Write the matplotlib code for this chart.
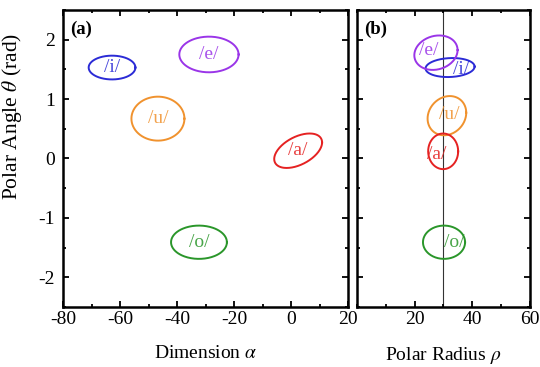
import numpy as np
import matplotlib
matplotlib.use("Agg")
import matplotlib.pyplot as plt
from matplotlib.ticker import MultipleLocator

plt.rcParams['font.family'] = ['Liberation Serif', 'DejaVu Serif']
plt.rcParams['mathtext.fontset'] = 'stix'
plt.rcParams['axes.unicode_minus'] = False

# vowel clusters
vowels = ['/i/', '/e/', '/u/', '/a/', '/o/']
colors = ['#2b2bd6', '#9a35e8', '#f0922e', '#e52222', '#2a962a']

# panel (a): dimension alpha vs polar angle
a_cx = [-62.8, -28.8, -46.7, 2.5, -32.3]
a_cy = [1.53, 1.75, 0.67, 0.13, -1.41]
a_rx = [8.2, 10.4, 9.3, 8.4, 9.8]
a_ry = [0.20, 0.30, 0.37, 0.29, 0.28]
a_corr = [0.0, 0.0, 0.0, 0.48, 0.0]

# panel (b): polar radius vs polar angle
b_cx = [32.3, 27.4, 31.2, 29.9, 30.2]
b_cy = [1.53, 1.78, 0.72, 0.12, -1.41]
b_rx = [8.5, 7.5, 6.7, 5.2, 7.3]
b_ry = [0.16, 0.29, 0.33, 0.30, 0.28]
b_corr = [0.1, 0.15, 0.15, 0.0, 0.0]
b_lx = [36.1, 25.0, 32.0, 27.8, 33.7]
b_ly = [1.50, 1.82, 0.74, 0.07, -1.41]

rho_line = 30


def draw_ellipse(ax, cx, cy, rx, ry, corr, color):
    t = np.linspace(0, 2 * np.pi, 200)
    d = np.arccos(corr)
    ax.plot(cx + rx * np.cos(t), cy + ry * np.cos(t - d), color=color, lw=1.4)


def style(ax):
    ax.tick_params(which='both', direction='in', top=True, right=True,
                   labelsize=14, width=1.3)
    ax.tick_params(axis='x', pad=3)
    ax.tick_params(axis='y', pad=6)
    ax.tick_params(which='major', length=4)
    ax.tick_params(which='minor', length=2.5)
    ax.yaxis.set_major_locator(MultipleLocator(1))
    ax.yaxis.set_minor_locator(MultipleLocator(0.5))
    for s in ax.spines.values():
        s.set_linewidth(1.8)


fig = plt.figure(figsize=(5.4, 3.67), dpi=100)
ax1 = fig.add_axes([0.1167, 0.1635, 0.5278, 0.8095])
ax2 = fig.add_axes([0.661, 0.1635, 0.3204, 0.8095])

for i in range(len(vowels)):
    draw_ellipse(ax1, a_cx[i], a_cy[i], a_rx[i], a_ry[i], a_corr[i], colors[i])
    ax1.text(a_cx[i], a_cy[i], vowels[i], color=colors[i], alpha=0.85,
             fontsize=14, ha='center', va='center')
    draw_ellipse(ax2, b_cx[i], b_cy[i], b_rx[i], b_ry[i], b_corr[i], colors[i])
    ax2.text(b_lx[i], b_ly[i], vowels[i], color=colors[i], alpha=0.85,
             fontsize=14, ha='center', va='center')

ax2.axvline(rho_line, color='#333333', lw=0.8, zorder=0)

ax1.set_xlim(-80, 20)
ax1.set_ylim(-2.5, 2.5)
ax1.xaxis.set_major_locator(MultipleLocator(20))
ax1.xaxis.set_minor_locator(MultipleLocator(10))
style(ax1)
ax1.set_xlabel(r'Dimension $\alpha$', fontsize=14, labelpad=12)
ax1.set_ylabel(r'Polar Angle $\theta$ (rad)', fontsize=15.5)
ax1.yaxis.set_label_coords(-0.138, 0.64)
ax1.text(0.025, 0.965, '(a)', transform=ax1.transAxes, fontsize=13.5,
         fontweight='bold', va='top', ha='left')

ax2.set_xlim(0, 60)
ax2.set_ylim(-2.5, 2.5)
ax2.xaxis.set_major_locator(MultipleLocator(20))
ax2.xaxis.set_minor_locator(MultipleLocator(10))
style(ax2)
ax2.set_xticks([20, 40, 60])
ax2.tick_params(labelleft=False)
ax2.set_xlabel(r'Polar Radius $\rho$', fontsize=14, labelpad=12)
ax2.text(0.04, 0.965, '(b)', transform=ax2.transAxes, fontsize=13.5,
         fontweight='bold', va='top', ha='left')

fig.savefig('out.png', dpi=100)
